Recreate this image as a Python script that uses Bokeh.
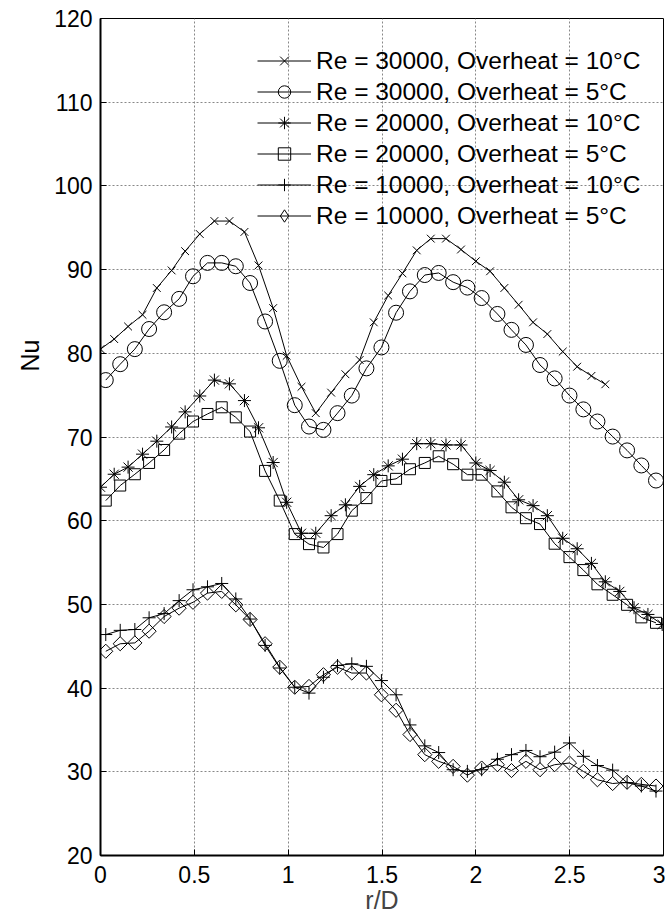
import numpy as np
from bokeh.plotting import figure
from bokeh.models import (Range1d, FixedTicker, Legend, LegendItem, Title)
from bokeh.embed import file_html
from bokeh.resources import INLINE

# ---- data ----
x_10C = [0.000, 0.073, 0.147, 0.224, 0.300, 0.379, 0.451, 0.529, 0.607, 0.687,
         0.767, 0.842, 0.920, 0.992, 1.071, 1.147, 1.229, 1.305, 1.381, 1.456,
         1.533, 1.609, 1.685, 1.760, 1.841, 1.921, 2.000, 2.076, 2.152, 2.228,
         2.305, 2.381, 2.463, 2.540, 2.616, 2.690, 2.767, 2.843, 2.917, 2.993]
x_5C = [0.028, 0.105, 0.183, 0.259, 0.339, 0.419, 0.493, 0.570, 0.646, 0.721,
        0.797, 0.877, 0.955, 1.035, 1.111, 1.188, 1.263, 1.339, 1.417, 1.497,
        1.575, 1.649, 1.728, 1.802, 1.879, 1.955, 2.031, 2.115, 2.190, 2.267,
        2.342, 2.420, 2.499, 2.573, 2.648, 2.729, 2.806, 2.882, 2.960]

nu_re30k_10C = [80.5, 81.7, 83.2, 84.6, 87.8, 89.9, 92.2, 94.25, 95.8, 95.8,
                94.5, 90.5, 85.4, 79.7, 76.0, 72.85, 75.3, 77.5, 79.2, 83.7,
                86.9, 89.55, 92.3, 93.7, 93.7, 92.4, 91.0, 89.8, 87.8, 85.8,
                83.7, 82.3, 80.2, 78.4, 77.3, 76.3]
nu_re30k_5C = [76.8, 78.7, 80.5, 82.9, 84.9, 86.5, 89.2, 90.8, 90.8, 90.4,
               88.4, 83.8, 79.1, 73.8, 71.25, 70.85, 72.85, 74.95, 78.2, 80.7,
               84.85, 87.4, 89.35, 89.6, 88.5, 87.85, 86.6, 84.7, 82.8, 81.0,
               78.6, 77.0, 74.95, 73.3, 71.85, 70.05, 68.4, 66.6, 64.8]
nu_re20k_10C = [64.0, 65.55, 66.4, 67.95, 69.5, 71.2, 73.0, 74.9, 76.8, 76.35,
                74.35, 71.1, 66.95, 62.2, 58.5, 58.5, 60.6, 61.9, 64.1, 65.5,
                66.55, 67.35, 69.2, 69.2, 69.05, 69.05, 66.9, 66.0, 64.6, 62.5,
                61.8, 60.6, 57.9, 56.65, 54.9, 52.7, 51.55, 49.6, 48.8, 47.6]
nu_re20k_5C = [62.4, 64.2, 65.55, 66.9, 68.45, 70.4, 71.85, 72.75, 73.55, 72.35,
               70.65, 65.95, 62.4, 58.4, 57.2, 56.8, 58.4, 61.2, 62.7, 64.75,
               65.0, 66.15, 66.9, 67.7, 66.75, 65.5, 65.5, 63.5, 61.6, 60.3,
               59.6, 57.25, 55.65, 54.1, 52.4, 51.15, 49.95, 48.45, 47.8]
nu_re10k_10C = [46.4, 46.9, 47.0, 48.4, 48.9, 50.45, 51.75, 52.1, 52.5, 50.65,
                48.25, 45.1, 42.4, 40.1, 39.4, 41.3, 42.7, 42.9, 42.6, 40.9,
                39.2, 35.6, 33.1, 32.3, 30.25, 30.05, 30.25, 31.5, 32.05, 32.55,
                31.8, 32.35, 33.45, 31.85, 30.75, 30.2, 28.7, 28.3, 27.7]
nu_re10k_5C = [44.4, 45.3, 45.4, 46.8, 48.55, 49.55, 50.25, 51.35, 51.55, 49.95,
               48.2, 45.3, 42.5, 40.1, 40.2, 41.6, 42.5, 41.8, 41.8, 39.2,
               37.35, 34.45, 32.05, 31.25, 30.65, 29.6, 30.45, 30.85, 30.15, 31.25,
               30.25, 30.85, 31.05, 30.05, 29.05, 28.6, 28.75, 28.5, 28.3]

labels = ["Re = 30000, Overheat = 10°C", "Re = 30000, Overheat = 5°C",
          "Re = 20000, Overheat = 10°C", "Re = 20000, Overheat = 5°C",
          "Re = 10000, Overheat = 10°C", "Re = 10000, Overheat = 5°C"]

x_ticks = [0, 0.5, 1, 1.5, 2, 2.5, 3]
x_tick_labels = ["0", "0.5", "1", "1.5", "2", "2.5", "3"]
y_ticks = [20, 30, 40, 50, 60, 70, 80, 90, 100, 110, 120]

FONT = "Liberation Sans"

p = figure(width=665, height=916, output_backend="svg", toolbar_location=None,
           x_range=Range1d(0, 3), y_range=Range1d(20, 120),
           min_border_left=100, min_border_right=2, min_border_top=18,
           min_border_bottom=60, background_fill_color="white",
           border_fill_color="white")
# a range the data never reaches: used only for the legend's diamond glyph
p.extra_x_ranges = {"legend_only": Range1d(10, 13)}
p.outline_line_color = "black"
p.outline_line_width = 1

for ax in (p.xaxis[0], p.yaxis[0]):
    ax.major_tick_in = 6
    ax.major_tick_out = 0
    ax.minor_tick_line_color = None
    ax.axis_line_width = 2
    ax.axis_line_color = "black"
    ax.major_tick_line_color = "black"
    ax.major_label_text_font = FONT
    ax.major_label_text_font_size = "23px"
    ax.major_label_text_color = "black"

p.xaxis.ticker = FixedTicker(ticks=x_ticks)
p.xaxis.major_label_overrides = {float(t): l for t, l in zip(x_ticks, x_tick_labels)}
p.xaxis.major_label_standoff = 10
p.xaxis.axis_label = "r/D"
p.xaxis.axis_label_text_font = FONT
p.xaxis.axis_label_text_font_size = "25px"
p.xaxis.axis_label_text_font_style = "normal"
p.xaxis.axis_label_standoff = 0

p.yaxis.ticker = FixedTicker(ticks=y_ticks)
p.yaxis.major_label_standoff = 8

# "Nu" placed (as in the reference) above the middle of the axis
nu_title = Title(text="Nu", align="right", offset=321, standoff=16,
                 text_font=FONT, text_font_size="25px",
                 text_font_style="normal", text_color="black")
p.add_layout(nu_title, "left")

for g in (p.xgrid[0], p.ygrid[0]):
    g.grid_line_color = "#888888"
    g.grid_line_dash = "2 2"
    g.grid_line_width = 1
p.xgrid.ticker = FixedTicker(ticks=x_ticks)
p.ygrid.ticker = FixedTicker(ticks=y_ticks)

# (x, y, data marker, size, angle, legend marker, legend size)
series = [
    (x_10C[:len(nu_re30k_10C)], nu_re30k_10C, "x", 11, 0, "x", 11),
    (x_5C, nu_re30k_5C, "circle", 15, 0, "circle", 15),
    (x_10C, nu_re20k_10C, "asterisk", 13, 0, "asterisk", 13),
    (x_5C, nu_re20k_5C, "square", 11, 0, "square", 11),
    (x_5C, nu_re10k_10C, "cross", 13, 0, "cross", 13),
    (x_5C, nu_re10k_5C, "square", 10, np.pi / 4, "diamond", 21),
]

items = []
for (xs, ys, mk, sz, ang, lmk, lsz), lab in zip(series, labels):
    lr = p.line(xs, ys, line_color="black", line_width=1)
    sr = p.scatter(xs, ys, marker=mk, size=sz, angle=ang, line_color="black",
                   fill_color=None, line_width=1)
    if lmk == mk:
        items.append(LegendItem(label=lab, renderers=[lr, sr]))
    else:
        # legend-only copy on an out-of-view range, so the legend shows an upright diamond
        gr = p.scatter(xs, ys, marker=lmk, size=lsz, line_color="black",
                       fill_color=None, line_width=1, x_range_name="legend_only")
        items.append(LegendItem(label=lab, renderers=[lr, gr]))

legend = Legend(items=items, location=(157, 624), orientation="vertical",
                background_fill_alpha=0, border_line_alpha=0,
                label_text_font=FONT, label_text_font_size="24.5px",
                label_text_color="black", glyph_width=54, glyph_height=31,
                label_height=31, label_standoff=5, spacing=0, padding=0, margin=0)
p.add_layout(legend, "center")

open("out.html", "w").write(file_html(p, INLINE))
